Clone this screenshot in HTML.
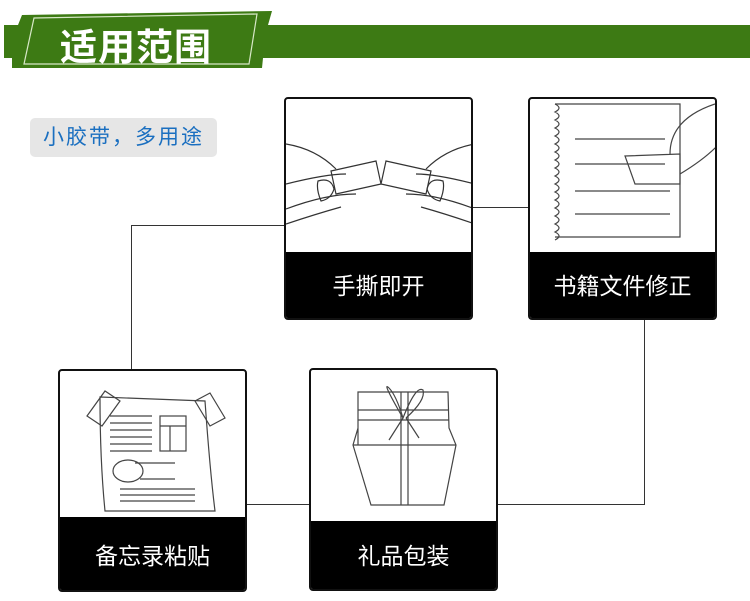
<!DOCTYPE html>
<html><head><meta charset="utf-8"><style>
body{margin:0;width:750px;height:601px;background:#fff;position:relative;overflow:hidden;font-family:"Liberation Sans","Noto Sans CJK SC",sans-serif}
.box{position:absolute;border:2px solid #111;border-radius:4px;background:#fff;overflow:hidden;box-sizing:border-box}
.box .lab{position:absolute;left:0;right:0;bottom:0;background:#000;color:#fff;font-size:23px;text-align:center}
.l{position:absolute;background:#333}
</style></head><body>
<svg style="position:absolute;left:0;top:0" width="750" height="75">
<rect x="260" y="25" width="490" height="33" fill="#3d7a14"/>
<polygon points="4,25 18,25 22,15 272,11 268,25 268,58 263,58 262,68 12,68 12,58 4,58" fill="#3d7a14"/>
<polygon points="34,18 257,14 249,64 24,64" fill="none" stroke="#d8e8c8" stroke-width="1.2"/>
</svg>
<div style="position:absolute;left:60px;top:20px;color:#fff;font-size:37px;font-weight:bold;letter-spacing:1px;font-family:'Noto Sans CJK SC',sans-serif;line-height:48px">适用范围</div>
<div style="position:absolute;left:30px;top:118px;width:187px;height:39px;background:#e6e6e6;border-radius:5px;color:#1a6fc0;font-size:21px;letter-spacing:2px;line-height:39px;text-align:center">小胶带，多用途</div>
<!-- connectors -->
<div class="l" style="left:131px;top:225px;width:153px;height:1px"></div>
<div class="l" style="left:131px;top:225px;width:1px;height:145px"></div>
<div class="l" style="left:472px;top:207px;width:56px;height:1px"></div>
<div class="l" style="left:644px;top:320px;width:1px;height:185px"></div>
<div class="l" style="left:497px;top:504px;width:148px;height:1px"></div>
<div class="l" style="left:246px;top:504px;width:64px;height:1px"></div>
<!-- box1 -->
<div class="box" style="left:284px;top:97px;width:189px;height:223px">
<svg width="189" height="153" style="position:absolute;left:0;top:0" fill="none" stroke="#333" stroke-width="1.2">
<path d="M0 45 Q30 50 50 70 M0 85 Q40 75 60 75 M0 110 Q40 95 70 95 M0 125 Q30 115 55 108"/>
<path d="M189 45 Q160 50 140 70 M189 85 Q150 75 130 75 M189 110 Q150 95 120 95 M189 125 Q160 115 135 108"/>
<path d="M45 72 L90 62 L95 85 L50 95 Z M145 72 L100 62 L95 85 L140 95 Z"/>
<path d="M32 82 Q45 78 48 90 Q45 100 35 102 Q30 90 32 82Z M157 82 Q144 78 141 90 Q144 100 154 102 Q159 90 157 82Z"/>
</svg>
<div class="lab" style="top:153px;line-height:68px">手撕即开</div></div>
<!-- box2 -->
<div class="box" style="left:528px;top:97px;width:189px;height:223px">
<svg width="189" height="153" style="position:absolute;left:0;top:0" fill="none" stroke="#444" stroke-width="1.2">
<path d="M25 5 L150 5 L150 138 L25 138"/>
<path d="M25 5 q8 4 0 8 q8 4 0 8 q8 4 0 8 q8 4 0 8 q8 4 0 8 q8 4 0 8 q8 4 0 8 q8 4 0 8 q8 4 0 8 q8 4 0 8 q8 4 0 8 q8 4 0 8 q8 4 0 8 q8 4 0 8 q8 4 0 8 q8 4 0 8 q8 4 0 8"/>
<path d="M45 40 L135 40 M45 65 L135 65 M45 92 L140 92 M45 115 L140 115"/>
<path d="M95 57 L150 55 L150 85 L105 85 Z M140 55 Q140 20 185 5 M150 75 Q175 60 189 45"/>
</svg>
<div class="lab" style="top:153px;line-height:68px">书籍文件修正</div></div>
<!-- box3 -->
<div class="box" style="left:58px;top:369px;width:189px;height:223px">
<svg width="189" height="150" style="position:absolute;left:0;top:0" fill="none" stroke="#444" stroke-width="1.2">
<path d="M40 26 L145 30 Q150 100 155 140 L45 140 Q40 90 40 26Z"/>
<path d="M27 45 L45 20 L60 30 L42 55Z M150 22 L165 47 L150 55 L135 30Z"/>
<path d="M50 45h42M50 52h42M50 59h42M50 66h42M50 73h42M50 80h42"/>
<rect x="100" y="45" width="26" height="35"/><path d="M100 55h26M110 55v25"/>
<ellipse cx="68" cy="100" rx="15" ry="11"/><path d="M75 92h40M80 108h35"/>
<path d="M60 118h75M60 124h75M60 130h75"/>
</svg>
<div class="lab" style="top:146px;line-height:78px">备忘录粘贴</div></div>
<!-- box4 -->
<div class="box" style="left:309px;top:368px;width:189px;height:223px">
<svg width="189" height="150" style="position:absolute;left:0;top:0" fill="none" stroke="#444" stroke-width="1.2">
<path d="M47 22 L137 22 L138 58 L145 75 L133 135 L60 135 L42 75 L47 58Z M47 22 L47 75 M47 40 L138 40 M47 50 L138 50 M42 75 L145 75"/>
<path d="M90 22 V135 M97 22 V135"/>
<path d="M92 48 Q70 10 78 18 Q85 25 92 48 Q105 15 112 20 Q115 30 95 48 M92 48 L78 70 M95 48 L108 68"/>
</svg>
<div class="lab" style="top:151px;line-height:70px">礼品包装</div></div>
</body></html>
